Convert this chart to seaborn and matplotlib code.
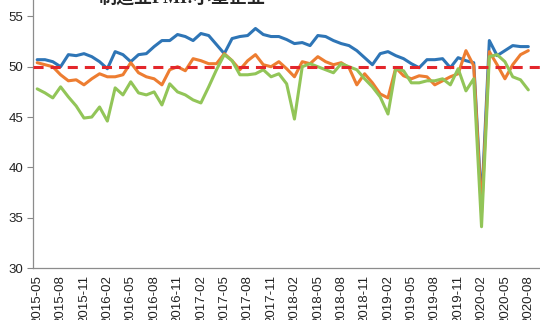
import numpy as np
import pandas as pd
import matplotlib
matplotlib.use("Agg")
import matplotlib.pyplot as plt
from matplotlib.lines import Line2D
import seaborn as sns

# ---- data -------------------------------------------------------------
months = pd.period_range("2015-05", "2020-08", freq="M").strftime("%Y-%m").tolist()

large = [50.7, 50.7, 50.5, 50.0, 51.2, 51.1, 51.3, 51.0, 50.5, 49.8,
         51.5, 51.2, 50.5, 51.2, 51.3, 52.0, 52.6, 52.6, 53.2, 53.0,
         52.6, 53.3, 53.1, 52.2, 51.3, 52.8, 53.0, 53.1, 53.8, 53.2,
         53.0, 53.0, 52.7, 52.3, 52.4, 52.1, 53.1, 53.0, 52.6, 52.3,
         52.1, 51.6, 50.9, 50.2, 51.3, 51.5, 51.1, 50.8, 50.3, 49.9,
         50.7, 50.7, 50.8, 49.9, 50.9, 50.6, 50.4, 36.3, 52.6, 51.1,
         51.6, 52.1, 52.0, 52.0]

medium = [50.4, 50.2, 50.0, 49.2, 48.6, 48.7, 48.2, 48.8, 49.3, 49.0,
          49.0, 49.2, 50.4, 49.4, 49.0, 48.8, 48.2, 49.7, 50.0, 49.6,
          50.8, 50.6, 50.3, 50.3, 51.3, 50.6, 49.7, 50.6, 51.2, 50.2,
          50.0, 50.5, 49.8, 49.0, 50.5, 50.3, 51.0, 50.5, 50.2, 50.4,
          49.9, 48.2, 49.3, 48.4, 47.3, 46.9, 49.9, 49.1, 48.8, 49.1,
          49.0, 48.2, 48.6, 49.0, 49.3, 51.6, 50.1, 35.5, 51.5, 50.2,
          48.8, 50.2, 51.2, 51.6]

small = [47.8, 47.4, 46.9, 48.0, 47.0, 46.1, 44.9, 45.0, 46.0, 44.6,
         47.9, 47.2, 48.5, 47.4, 47.2, 47.5, 46.2, 48.3, 47.5, 47.2,
         46.7, 46.4, 48.0, 49.7, 51.2, 50.6, 49.2, 49.2, 49.3, 49.7,
         49.0, 49.3, 48.3, 44.8, 50.0, 50.3, 50.0, 49.7, 49.4, 50.3,
         50.0, 49.7, 48.8, 48.0, 47.0, 45.3, 49.8, 49.6, 48.4, 48.4,
         48.6, 48.6, 48.8, 48.2, 49.8, 47.6, 48.8, 34.1, 51.0, 51.2,
         50.5, 49.0, 48.7, 47.7]

series_names = ["制造业PMI:大型企业", "制造业PMI:中型企业", "制造业PMI:小型企业"]
colors = ["#2E75B6", "#ED7D31", "#92C558"]
yticks = [30, 35, 40, 45, 50, 55]
threshold = 50

# ---- build table -----------------------------------------------------
df = pd.DataFrame({"month": months,
                   series_names[0]: large,
                   series_names[1]: medium,
                   series_names[2]: small})
df["idx"] = np.arange(len(months))
long = df.melt(id_vars=["month", "idx"], var_name="series", value_name="value")

# ---- style -----------------------------------------------------------
sns.set_style("white")
plt.rcParams["font.family"] = ["Liberation Sans", "Noto Sans CJK SC", "DejaVu Sans"]

fig = plt.figure(figsize=(5.4, 3.2), dpi=100)
ax = fig.add_axes([33.3 / 540, 52 / 320, (540 - 33.3) / 540, 268 / 320])

sns.lineplot(data=long, x="idx", y="value", hue="series",
             hue_order=series_names, palette=colors, linewidth=2.2,
             legend=False, ax=ax, zorder=3)

ax.axhline(threshold, color="#E3262B", lw=2.2, ls=(0, (3.3, 2.3)), zorder=5)

ax.set_xlim(-0.5, 64.5)
ax.set_ylim(30, 56.63)
ax.set_xlabel("")
ax.set_ylabel("")

lab_pos = df["idx"].values[::3]
lab_txt = [months[i] for i in lab_pos]
ax.set_xticks(lab_pos)
ax.set_xticklabels(lab_txt, rotation=90, fontsize=9.5, color="#222222")
ax.set_xticks(lab_pos - 0.5, minor=True)
ax.tick_params(axis="x", which="major", length=0, pad=5)
ax.tick_params(axis="x", which="minor", length=4, width=0.8, color="#888888",
               direction="out")
ax.set_yticks(yticks)
ax.set_yticklabels([str(v) for v in yticks], fontsize=9.5, color="#222222")
ax.tick_params(axis="y", length=4, width=0.8, color="#888888", direction="out",
               left=True, pad=3)

for s in ["top", "right"]:
    ax.spines[s].set_visible(False)
for s in ["left", "bottom"]:
    ax.spines[s].set_color("#8C8C8C")
    ax.spines[s].set_linewidth(0.9)

handles = [Line2D([], [], color=c, lw=3) for c in colors]
fig.legend(handles, series_names, loc="lower left",
           bbox_to_anchor=(66 / 540, 1 - 8 / 320), ncol=1, frameon=False,
           borderpad=0, borderaxespad=0, handlelength=1.5, handletextpad=0.3,
           labelspacing=0.3,
           prop={"family": ["Liberation Serif", "Noto Sans CJK SC"],
                 "weight": "bold", "size": 13})

fig.savefig("out.png", dpi=100)
